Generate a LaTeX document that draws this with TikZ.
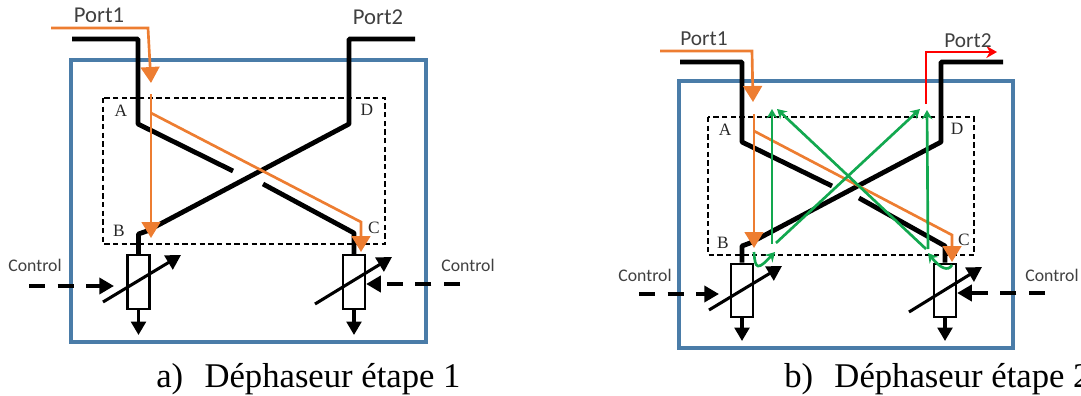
\documentclass[tikz,border=0pt]{standalone}
\usepackage{fontspec}
\setmainfont{Liberation Serif}
\newfontfamily\labelfont{Carlito}
\usetikzlibrary{arrows.meta}
\definecolor{frameblue}{HTML}{4A7CA8}
\definecolor{pathorange}{HTML}{ED7D31}
\definecolor{pathgreen}{HTML}{12A84F}
\tikzset{
  frame/.style={draw=frameblue, line width=2.6pt},
  zone/.style={draw, dash pattern=on 4pt off 2.5pt, line width=1.4pt},
  guide/.style={line width=3.6pt, line join=bevel},
  res/.style={draw, line width=1.7pt, minimum width=16.5pt, minimum height=40pt, inner sep=0pt, fill=white},
  tune/.style={->, line width=2.3pt, >={Triangle[length=11pt,width=12pt]}},
  drain/.style={->, line width=2.3pt, >={Triangle[length=10pt,width=11pt]}},
  ctrl/.style={->, line width=2.8pt, dash pattern=on 12pt off 9.5pt, >={Triangle[length=11pt,width=12pt]}},
  floworange/.style={->, draw=pathorange, line width=2pt, >={Triangle[length=12pt,width=14pt]}},
  flowgreen/.style={->, draw=pathgreen, line width=2pt, >={Stealth[length=7pt,width=8pt]}},
  portlabel/.style={font=\labelfont\fontsize{17}{17}\selectfont, text=black!75, inner sep=0pt},
  ctl/.style={font=\labelfont\fontsize{13.3}{14}\selectfont, text=black!75, inner sep=0pt},
  letter/.style={font=\fontsize{13}{14}\selectfont, text=black!85, inner sep=0pt},
  caption/.style={font=\fontsize{26}{28}\selectfont, inner sep=0pt, anchor=base west}
}
\begin{document}
\begin{tikzpicture}[x=0.75pt, y=-0.75pt, >=Stealth]
  \useasboundingbox (0,0) rectangle (1081,396);
  % panel a
  \draw[frame] (71,60) rectangle (426,342);
  \draw[zone] (103,98) rectangle (385,244);
  \node[res] (resA1) at (138.5,282) {};
  \node[res] (resA2) at (354,282) {};
  \coordinate (outA1) at (138.5,335);
  \coordinate (outA2) at (354,335);
  \draw[guide] (72,39) -- (138,39) -- (138,124) -- (233,171);
  \draw[guide] (263,184) -- (354,233) -- (resA2.north);
  \draw[guide] (resA1.north) -- (138.5,234) -- (147,231) -- (349,124) -- (349,39) -- (415,39);
  \draw[drain] (resA1.south) -- (outA1);
  \draw[drain] (resA2.south) -- (outA2);
  \draw[tune] (103,302) -- (181,255);
  \draw[tune] (315,304) -- (392,257);
  \draw[ctrl] (29,286) -- (114,286);
  \draw[ctrl] (460,284) -- (resA2.east |- 0,284);
  \draw[floworange] (51,28) -- (148,28) -- (151,83);
  \draw[floworange] (151,94) -- (151,238);
  \draw[floworange] (151,113) -- (361,222) -- (361,252);
  \node[portlabel] (portA1) at (99,15) {Port1};
  \node[portlabel] (portA2) at (378,17) {Port2};
  \node[ctl] (ctlA1) at (35,265) {Control};
  \node[ctl] (ctlA2) at (468,265) {Control};
  \node[letter] (la) at (121,111) {A};
  \node[letter] (ld) at (367,110) {D};
  \node[letter] (lb) at (119,231) {B};
  \node[letter] (lc) at (374,228) {C};
  \node[caption] (capA) at (156,387) {a)\hspace{16pt}Déphaseur étape 1};
  % panel b
  \draw[frame] (679,81) rectangle (1013,348);
  \draw[zone] (708,117) rectangle (974,255);
  \node[res] (resB1) at (742,290.5) {};
  \node[res] (resB2) at (945,290.5) {};
  \coordinate (outB1) at (742,341);
  \coordinate (outB2) at (945,341);
  \draw[guide] (680,62) -- (742,62) -- (742,142) -- (832,186);
  \draw[guide] (859,198) -- (945,246) -- (resB2.north);
  \draw[guide] (resB1.north) -- (742,246) -- (750,243) -- (941,142) -- (941,62) -- (1003,62);
  \draw[drain] (resB1.south) -- (outB1);
  \draw[drain] (resB2.south) -- (outB2);
  \draw[tune] (709,310) -- (782,266);
  \draw[tune] (909,312) -- (982,267);
  \draw[ctrl] (639,294) -- (719,294);
  \draw[ctrl] (1045,293) -- (resB2.east |- 0,293);
  \draw[floworange] (660,51) -- (752,51) -- (753,102);
  \draw[floworange] (754,114) -- (754,248);
  \draw[floworange] (754,131) -- (952,235) -- (952,262);
  \draw[->, red, line width=2.2pt, >={Stealth[length=8pt,width=9pt]}] (926,104) -- (926,52) -- (997,52);
  \draw[flowgreen] (772,244) -- (772,109);
  \draw[flowgreen] (776,243) -- (920,109);
  \draw[flowgreen] (928,249) -- (927,110);
  \draw[flowgreen] (926,249) -- (777,109);
  \draw[flowgreen] (754,252) .. controls (755,270) and (758,270) .. (775,252);
  \draw[flowgreen] (952,265) .. controls (948,272) and (940,268) .. (928,253);
  \node[portlabel, font=\labelfont\fontsize{16}{16}\selectfont] (portB1) at (704,39) {Port1};
  \node[portlabel, font=\labelfont\fontsize{16}{16}\selectfont] (portB2) at (968,41) {Port2};
  \node[ctl] (ctlB1) at (645,275) {Control};
  \node[ctl] (ctlB2) at (1052,275) {Control};
  \node[letter] (lab) at (725,130) {A};
  \node[letter] (ldb) at (957,129) {D};
  \node[letter] (lbb) at (723,243) {B};
  \node[letter] (lcb) at (964,240) {C};
  \node[caption] (capB) at (784,387) {b)\hspace{16pt}Déphaseur étape 2};
\end{tikzpicture}
\end{document}
